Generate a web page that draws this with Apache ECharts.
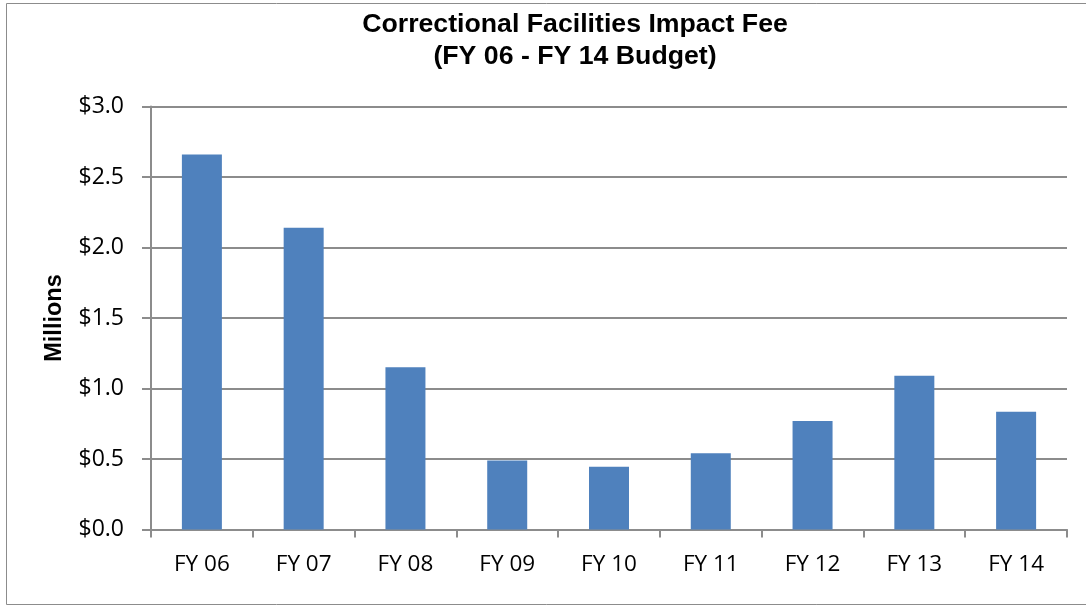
<!DOCTYPE html>
<html>
<head>
    <meta charset="utf-8">
    <title>Correctional Facilities Impact Fee</title>
    <script src="https://cdn.jsdelivr.net/npm/echarts@6/dist/echarts.min.js"></script>
</head>
<body style="margin:0;">
    <div id="main" style="width:1086px;height:607px;"></div>
    <script type="text/javascript">
        var years = ['FY 06', 'FY 07', 'FY 08', 'FY 09', 'FY 10', 'FY 11', 'FY 12', 'FY 13', 'FY 14'];
        var fees = [2.66, 2.14, 1.15, 0.49, 0.445, 0.54, 0.77, 1.09, 0.835];

        var myChart = echarts.init(document.getElementById('main'));

        var option = {
            animation: false,
            backgroundColor: '#fff',
            graphic: [{
                type: 'rect',
                shape: { x: 6.5, y: 3.5, width: 1100, height: 601 },
                style: { fill: 'none', stroke: '#8c8c8c', lineWidth: 1 }
            }],
            title: {
                text: 'Correctional Facilities Impact Fee\n(FY 06 - FY 14 Budget)',
                left: 570,
                top: 4,
                textAlign: 'center',
                textStyle: {
                    fontFamily: 'Liberation Sans',
                    fontSize: 26.7,
                    fontWeight: 'bold',
                    color: '#000',
                    lineHeight: 32
                }
            },
            grid: {
                left: 151,
                right: 19,
                top: 106.5,
                bottom: 77.5
            },
            xAxis: {
                type: 'category',
                data: years,
                axisLine: { lineStyle: { color: '#8c8c8c', width: 2 } },
                axisTick: { show: true, length: 8, lineStyle: { color: '#8c8c8c', width: 2 } },
                axisLabel: {
                    fontFamily: 'Open Sans',
                    fontSize: 22.5,
                    color: '#000',
                    margin: 24
                }
            },
            yAxis: {
                type: 'value',
                min: 0,
                max: 3,
                interval: 0.5,
                name: 'Millions',
                nameLocation: 'middle',
                nameGap: 84,
                nameTextStyle: {
                    fontFamily: 'Liberation Sans',
                    fontSize: 23.5,
                    fontWeight: 'bold',
                    color: '#000'
                },
                axisLine: { show: true, lineStyle: { color: '#8c8c8c', width: 2 } },
                axisTick: { show: true, length: 9, lineStyle: { color: '#8c8c8c', width: 2 } },
                splitLine: { lineStyle: { color: '#8c8c8c', width: 2 } },
                axisLabel: {
                    fontFamily: 'Open Sans',
                    fontSize: 23,
                    color: '#000',
                    margin: 27,
                    formatter: function (v) { return '$' + v.toFixed(1); }
                }
            },
            series: [{
                type: 'bar',
                data: fees,
                barWidth: 40,
                itemStyle: { color: '#4f81bd' }
            }]
        };

        myChart.setOption(option);
    </script>
</body>
</html>
